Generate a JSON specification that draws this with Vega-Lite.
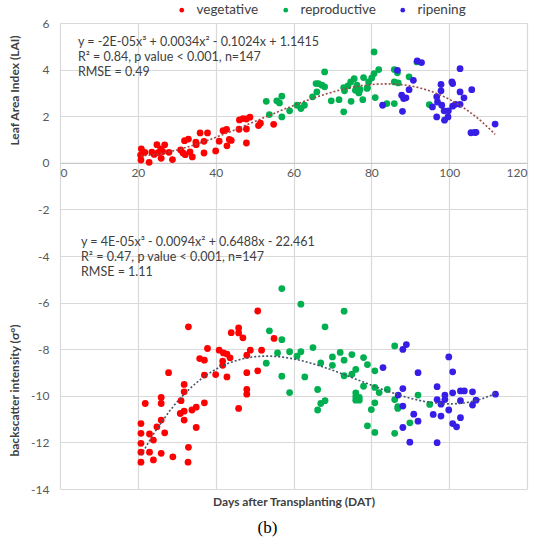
{
  "$schema": "https://vega.github.io/schema/vega-lite/v6.json",
  "width": 467,
  "height": 466,
  "autosize": {"type": "none"},
  "padding": {"left": 60, "top": 23, "right": 10, "bottom": 61},
  "title": {
    "text": "(b)",
    "orient": "bottom",
    "anchor": "middle",
    "frame": "bounds",
    "font": "Liberation Serif",
    "fontSize": 17,
    "fontWeight": "normal",
    "color": "#000000",
    "offset": 13
  },
  "config": {
    "view": {"stroke": null},
    "font": "Lato",
    "axis": {"labelFont": "Lato", "titleFont": "Lato"}
  },
  "datasets": {
    "lai": [
      {"dat": 20.9, "lai": 0.6, "stage": "vegetative"},
      {"dat": 20.7, "lai": 0.33, "stage": "vegetative"},
      {"dat": 20.8, "lai": 0.12, "stage": "vegetative"},
      {"dat": 21.8, "lai": 0.45, "stage": "vegetative"},
      {"dat": 22.9, "lai": 0.02, "stage": "vegetative"},
      {"dat": 23.6, "lai": 0.46, "stage": "vegetative"},
      {"dat": 24.2, "lai": 0.36, "stage": "vegetative"},
      {"dat": 24.9, "lai": 0.78, "stage": "vegetative"},
      {"dat": 25.2, "lai": 0.44, "stage": "vegetative"},
      {"dat": 25.9, "lai": 0.6, "stage": "vegetative"},
      {"dat": 26.0, "lai": 0.19, "stage": "vegetative"},
      {"dat": 26.4, "lai": 0.48, "stage": "vegetative"},
      {"dat": 26.9, "lai": 0.77, "stage": "vegetative"},
      {"dat": 28.0, "lai": 0.45, "stage": "vegetative"},
      {"dat": 28.9, "lai": 0.14, "stage": "vegetative"},
      {"dat": 31.0, "lai": 0.55, "stage": "vegetative"},
      {"dat": 31.6, "lai": 0.42, "stage": "vegetative"},
      {"dat": 32.0, "lai": 0.95, "stage": "vegetative"},
      {"dat": 32.2, "lai": 0.35, "stage": "vegetative"},
      {"dat": 33.0, "lai": 1.02, "stage": "vegetative"},
      {"dat": 33.4, "lai": 0.47, "stage": "vegetative"},
      {"dat": 34.0, "lai": 0.25, "stage": "vegetative"},
      {"dat": 34.9, "lai": 0.89, "stage": "vegetative"},
      {"dat": 35.0, "lai": 0.78, "stage": "vegetative"},
      {"dat": 36.0, "lai": 1.28, "stage": "vegetative"},
      {"dat": 37.0, "lai": 0.42, "stage": "vegetative"},
      {"dat": 37.0, "lai": 0.92, "stage": "vegetative"},
      {"dat": 37.9, "lai": 1.28, "stage": "vegetative"},
      {"dat": 40.0, "lai": 0.51, "stage": "vegetative"},
      {"dat": 40.9, "lai": 0.93, "stage": "vegetative"},
      {"dat": 41.9, "lai": 1.38, "stage": "vegetative"},
      {"dat": 42.8, "lai": 1.43, "stage": "vegetative"},
      {"dat": 42.9, "lai": 0.73, "stage": "vegetative"},
      {"dat": 43.5, "lai": 1.0, "stage": "vegetative"},
      {"dat": 44.0, "lai": 0.96, "stage": "vegetative"},
      {"dat": 46.0, "lai": 1.44, "stage": "vegetative"},
      {"dat": 46.1, "lai": 1.84, "stage": "vegetative"},
      {"dat": 47.0, "lai": 1.9, "stage": "vegetative"},
      {"dat": 47.9, "lai": 1.88, "stage": "vegetative"},
      {"dat": 47.9, "lai": 1.45, "stage": "vegetative"},
      {"dat": 47.9, "lai": 0.85, "stage": "vegetative"},
      {"dat": 48.8, "lai": 1.96, "stage": "vegetative"},
      {"dat": 51.0, "lai": 1.6, "stage": "vegetative"},
      {"dat": 51.5, "lai": 1.7, "stage": "vegetative"},
      {"dat": 54.9, "lai": 1.65, "stage": "vegetative"},
      {"dat": 53.0, "lai": 2.64, "stage": "reproductive"},
      {"dat": 53.8, "lai": 2.07, "stage": "reproductive"},
      {"dat": 55.7, "lai": 2.66, "stage": "reproductive"},
      {"dat": 56.4, "lai": 2.57, "stage": "reproductive"},
      {"dat": 57.0, "lai": 2.86, "stage": "reproductive"},
      {"dat": 57.0, "lai": 1.97, "stage": "reproductive"},
      {"dat": 59.0, "lai": 2.23, "stage": "reproductive"},
      {"dat": 60.9, "lai": 2.47, "stage": "reproductive"},
      {"dat": 61.9, "lai": 2.33, "stage": "reproductive"},
      {"dat": 62.8, "lai": 2.47, "stage": "reproductive"},
      {"dat": 64.9, "lai": 2.83, "stage": "reproductive"},
      {"dat": 66.0, "lai": 3.04, "stage": "reproductive"},
      {"dat": 65.8, "lai": 3.4, "stage": "reproductive"},
      {"dat": 66.4, "lai": 3.4, "stage": "reproductive"},
      {"dat": 67.3, "lai": 3.33, "stage": "reproductive"},
      {"dat": 68.0, "lai": 3.9, "stage": "reproductive"},
      {"dat": 68.0, "lai": 3.26, "stage": "reproductive"},
      {"dat": 69.7, "lai": 2.66, "stage": "reproductive"},
      {"dat": 71.7, "lai": 2.71, "stage": "reproductive"},
      {"dat": 72.9, "lai": 2.19, "stage": "reproductive"},
      {"dat": 72.9, "lai": 3.23, "stage": "reproductive"},
      {"dat": 73.1, "lai": 3.09, "stage": "reproductive"},
      {"dat": 74.0, "lai": 3.3, "stage": "reproductive"},
      {"dat": 74.8, "lai": 2.64, "stage": "reproductive"},
      {"dat": 74.7, "lai": 3.47, "stage": "reproductive"},
      {"dat": 75.6, "lai": 3.61, "stage": "reproductive"},
      {"dat": 75.9, "lai": 3.11, "stage": "reproductive"},
      {"dat": 76.3, "lai": 3.33, "stage": "reproductive"},
      {"dat": 76.8, "lai": 3.0, "stage": "reproductive"},
      {"dat": 77.1, "lai": 3.14, "stage": "reproductive"},
      {"dat": 77.8, "lai": 2.71, "stage": "reproductive"},
      {"dat": 78.0, "lai": 3.66, "stage": "reproductive"},
      {"dat": 78.9, "lai": 3.19, "stage": "reproductive"},
      {"dat": 79.0, "lai": 3.22, "stage": "reproductive"},
      {"dat": 79.3, "lai": 3.47, "stage": "reproductive"},
      {"dat": 80.1, "lai": 3.64, "stage": "reproductive"},
      {"dat": 80.7, "lai": 4.76, "stage": "reproductive"},
      {"dat": 80.7, "lai": 3.83, "stage": "reproductive"},
      {"dat": 81.0, "lai": 2.8, "stage": "reproductive"},
      {"dat": 81.9, "lai": 4.0, "stage": "reproductive"},
      {"dat": 84.0, "lai": 2.54, "stage": "reproductive"},
      {"dat": 85.9, "lai": 4.0, "stage": "reproductive"},
      {"dat": 85.9, "lai": 3.47, "stage": "reproductive"},
      {"dat": 86.7, "lai": 3.86, "stage": "reproductive"},
      {"dat": 85.9, "lai": 2.54, "stage": "reproductive"},
      {"dat": 86.9, "lai": 3.43, "stage": "reproductive"},
      {"dat": 89.7, "lai": 3.69, "stage": "reproductive"},
      {"dat": 91.7, "lai": 4.33, "stage": "reproductive"},
      {"dat": 94.9, "lai": 2.5, "stage": "reproductive"},
      {"dat": 82.9, "lai": 2.47, "stage": "ripening"},
      {"dat": 86.7, "lai": 3.97, "stage": "ripening"},
      {"dat": 88.0, "lai": 2.21, "stage": "ripening"},
      {"dat": 87.8, "lai": 2.9, "stage": "ripening"},
      {"dat": 88.3, "lai": 2.76, "stage": "ripening"},
      {"dat": 88.9, "lai": 2.79, "stage": "ripening"},
      {"dat": 89.7, "lai": 3.14, "stage": "ripening"},
      {"dat": 90.8, "lai": 3.54, "stage": "ripening"},
      {"dat": 91.8, "lai": 4.37, "stage": "ripening"},
      {"dat": 92.9, "lai": 4.3, "stage": "ripening"},
      {"dat": 95.7, "lai": 2.4, "stage": "ripening"},
      {"dat": 96.8, "lai": 1.97, "stage": "ripening"},
      {"dat": 96.8, "lai": 2.83, "stage": "ripening"},
      {"dat": 97.0, "lai": 2.61, "stage": "ripening"},
      {"dat": 97.9, "lai": 3.36, "stage": "ripening"},
      {"dat": 97.9, "lai": 3.09, "stage": "ripening"},
      {"dat": 98.1, "lai": 2.47, "stage": "ripening"},
      {"dat": 98.7, "lai": 2.23, "stage": "ripening"},
      {"dat": 98.8, "lai": 1.83, "stage": "ripening"},
      {"dat": 99.7, "lai": 1.97, "stage": "ripening"},
      {"dat": 99.8, "lai": 2.23, "stage": "ripening"},
      {"dat": 100.7, "lai": 3.47, "stage": "ripening"},
      {"dat": 100.9, "lai": 3.4, "stage": "ripening"},
      {"dat": 100.9, "lai": 2.43, "stage": "ripening"},
      {"dat": 101.6, "lai": 2.51, "stage": "ripening"},
      {"dat": 102.8, "lai": 4.04, "stage": "ripening"},
      {"dat": 102.8, "lai": 3.04, "stage": "ripening"},
      {"dat": 102.8, "lai": 2.51, "stage": "ripening"},
      {"dat": 103.8, "lai": 2.79, "stage": "ripening"},
      {"dat": 105.8, "lai": 3.14, "stage": "ripening"},
      {"dat": 105.6, "lai": 1.29, "stage": "ripening"},
      {"dat": 106.6, "lai": 1.3, "stage": "ripening"},
      {"dat": 106.9, "lai": 1.31, "stage": "ripening"},
      {"dat": 111.8, "lai": 1.66, "stage": "ripening"}
    ],
    "sigma": [
      {"dat": 33.0, "sigma": -7.04, "stage": "vegetative"},
      {"dat": 50.8, "sigma": -6.36, "stage": "vegetative"},
      {"dat": 27.9, "sigma": -9.01, "stage": "vegetative"},
      {"dat": 21.9, "sigma": -10.33, "stage": "vegetative"},
      {"dat": 20.8, "sigma": -11.19, "stage": "vegetative"},
      {"dat": 20.8, "sigma": -11.61, "stage": "vegetative"},
      {"dat": 20.8, "sigma": -12.04, "stage": "vegetative"},
      {"dat": 20.8, "sigma": -12.42, "stage": "vegetative"},
      {"dat": 20.8, "sigma": -12.85, "stage": "vegetative"},
      {"dat": 23.0, "sigma": -11.64, "stage": "vegetative"},
      {"dat": 24.0, "sigma": -11.9, "stage": "vegetative"},
      {"dat": 24.9, "sigma": -11.33, "stage": "vegetative"},
      {"dat": 26.0, "sigma": -10.07, "stage": "vegetative"},
      {"dat": 26.0, "sigma": -10.33, "stage": "vegetative"},
      {"dat": 26.0, "sigma": -11.04, "stage": "vegetative"},
      {"dat": 26.9, "sigma": -11.59, "stage": "vegetative"},
      {"dat": 26.0, "sigma": -12.47, "stage": "vegetative"},
      {"dat": 23.0, "sigma": -12.42, "stage": "vegetative"},
      {"dat": 24.0, "sigma": -12.75, "stage": "vegetative"},
      {"dat": 29.0, "sigma": -12.62, "stage": "vegetative"},
      {"dat": 31.1, "sigma": -10.21, "stage": "vegetative"},
      {"dat": 31.9, "sigma": -9.83, "stage": "vegetative"},
      {"dat": 31.9, "sigma": -9.51, "stage": "vegetative"},
      {"dat": 30.9, "sigma": -10.76, "stage": "vegetative"},
      {"dat": 31.9, "sigma": -10.66, "stage": "vegetative"},
      {"dat": 31.9, "sigma": -11.04, "stage": "vegetative"},
      {"dat": 33.0, "sigma": -12.21, "stage": "vegetative"},
      {"dat": 32.9, "sigma": -12.85, "stage": "vegetative"},
      {"dat": 33.9, "sigma": -10.61, "stage": "vegetative"},
      {"dat": 35.0, "sigma": -10.49, "stage": "vegetative"},
      {"dat": 35.0, "sigma": -11.36, "stage": "vegetative"},
      {"dat": 37.1, "sigma": -10.3, "stage": "vegetative"},
      {"dat": 35.9, "sigma": -8.4, "stage": "vegetative"},
      {"dat": 37.1, "sigma": -8.47, "stage": "vegetative"},
      {"dat": 37.1, "sigma": -9.11, "stage": "vegetative"},
      {"dat": 37.9, "sigma": -7.97, "stage": "vegetative"},
      {"dat": 40.0, "sigma": -9.09, "stage": "vegetative"},
      {"dat": 40.9, "sigma": -8.04, "stage": "vegetative"},
      {"dat": 42.0, "sigma": -8.16, "stage": "vegetative"},
      {"dat": 41.8, "sigma": -8.51, "stage": "vegetative"},
      {"dat": 41.8, "sigma": -8.69, "stage": "vegetative"},
      {"dat": 42.9, "sigma": -8.21, "stage": "vegetative"},
      {"dat": 42.9, "sigma": -9.19, "stage": "vegetative"},
      {"dat": 43.7, "sigma": -8.37, "stage": "vegetative"},
      {"dat": 44.0, "sigma": -7.29, "stage": "vegetative"},
      {"dat": 45.9, "sigma": -7.09, "stage": "vegetative"},
      {"dat": 45.9, "sigma": -7.3, "stage": "vegetative"},
      {"dat": 47.0, "sigma": -7.51, "stage": "vegetative"},
      {"dat": 45.9, "sigma": -10.54, "stage": "vegetative"},
      {"dat": 48.0, "sigma": -9.01, "stage": "vegetative"},
      {"dat": 48.0, "sigma": -9.73, "stage": "vegetative"},
      {"dat": 48.0, "sigma": -9.93, "stage": "vegetative"},
      {"dat": 48.0, "sigma": -8.26, "stage": "vegetative"},
      {"dat": 48.9, "sigma": -8.04, "stage": "vegetative"},
      {"dat": 50.8, "sigma": -8.93, "stage": "vegetative"},
      {"dat": 51.8, "sigma": -8.04, "stage": "vegetative"},
      {"dat": 55.0, "sigma": -7.54, "stage": "vegetative"},
      {"dat": 57.0, "sigma": -5.4, "stage": "reproductive"},
      {"dat": 61.9, "sigma": -6.07, "stage": "reproductive"},
      {"dat": 53.8, "sigma": -7.21, "stage": "reproductive"},
      {"dat": 57.0, "sigma": -7.59, "stage": "reproductive"},
      {"dat": 55.9, "sigma": -8.16, "stage": "reproductive"},
      {"dat": 59.0, "sigma": -8.11, "stage": "reproductive"},
      {"dat": 60.9, "sigma": -8.3, "stage": "reproductive"},
      {"dat": 61.9, "sigma": -8.11, "stage": "reproductive"},
      {"dat": 53.0, "sigma": -8.6, "stage": "reproductive"},
      {"dat": 57.0, "sigma": -9.16, "stage": "reproductive"},
      {"dat": 59.0, "sigma": -9.86, "stage": "reproductive"},
      {"dat": 62.9, "sigma": -9.19, "stage": "reproductive"},
      {"dat": 73.0, "sigma": -6.37, "stage": "reproductive"},
      {"dat": 68.1, "sigma": -7.04, "stage": "reproductive"},
      {"dat": 65.0, "sigma": -7.93, "stage": "reproductive"},
      {"dat": 67.0, "sigma": -8.59, "stage": "reproductive"},
      {"dat": 66.2, "sigma": -9.73, "stage": "reproductive"},
      {"dat": 67.0, "sigma": -10.33, "stage": "reproductive"},
      {"dat": 68.1, "sigma": -10.21, "stage": "reproductive"},
      {"dat": 66.2, "sigma": -10.61, "stage": "reproductive"},
      {"dat": 70.0, "sigma": -8.33, "stage": "reproductive"},
      {"dat": 70.0, "sigma": -8.69, "stage": "reproductive"},
      {"dat": 72.0, "sigma": -8.14, "stage": "reproductive"},
      {"dat": 73.0, "sigma": -8.47, "stage": "reproductive"},
      {"dat": 73.0, "sigma": -9.14, "stage": "reproductive"},
      {"dat": 75.0, "sigma": -8.23, "stage": "reproductive"},
      {"dat": 75.0, "sigma": -9.07, "stage": "reproductive"},
      {"dat": 76.0, "sigma": -8.87, "stage": "reproductive"},
      {"dat": 78.0, "sigma": -8.36, "stage": "reproductive"},
      {"dat": 79.0, "sigma": -8.66, "stage": "reproductive"},
      {"dat": 78.0, "sigma": -9.59, "stage": "reproductive"},
      {"dat": 76.0, "sigma": -9.87, "stage": "reproductive"},
      {"dat": 76.0, "sigma": -10.19, "stage": "reproductive"},
      {"dat": 76.9, "sigma": -10.07, "stage": "reproductive"},
      {"dat": 76.9, "sigma": -10.19, "stage": "reproductive"},
      {"dat": 76.0, "sigma": -10.04, "stage": "reproductive"},
      {"dat": 80.9, "sigma": -8.93, "stage": "reproductive"},
      {"dat": 80.0, "sigma": -10.59, "stage": "reproductive"},
      {"dat": 80.9, "sigma": -10.3, "stage": "reproductive"},
      {"dat": 79.0, "sigma": -11.29, "stage": "reproductive"},
      {"dat": 80.9, "sigma": -11.57, "stage": "reproductive"},
      {"dat": 82.0, "sigma": -9.86, "stage": "reproductive"},
      {"dat": 80.9, "sigma": -9.64, "stage": "reproductive"},
      {"dat": 84.1, "sigma": -9.73, "stage": "reproductive"},
      {"dat": 86.0, "sigma": -7.86, "stage": "reproductive"},
      {"dat": 86.0, "sigma": -10.16, "stage": "reproductive"},
      {"dat": 86.8, "sigma": -10.47, "stage": "reproductive"},
      {"dat": 86.8, "sigma": -10.54, "stage": "reproductive"},
      {"dat": 86.0, "sigma": -11.61, "stage": "reproductive"},
      {"dat": 89.9, "sigma": -11.16, "stage": "reproductive"},
      {"dat": 92.0, "sigma": -9.97, "stage": "reproductive"},
      {"dat": 95.0, "sigma": -10.37, "stage": "reproductive"},
      {"dat": 89.0, "sigma": -7.8, "stage": "ripening"},
      {"dat": 88.1, "sigma": -8.01, "stage": "ripening"},
      {"dat": 83.0, "sigma": -8.79, "stage": "ripening"},
      {"dat": 92.0, "sigma": -9.01, "stage": "ripening"},
      {"dat": 88.1, "sigma": -9.69, "stage": "ripening"},
      {"dat": 86.9, "sigma": -9.97, "stage": "ripening"},
      {"dat": 88.1, "sigma": -10.44, "stage": "ripening"},
      {"dat": 88.1, "sigma": -11.36, "stage": "ripening"},
      {"dat": 89.9, "sigma": -11.99, "stage": "ripening"},
      {"dat": 90.9, "sigma": -10.79, "stage": "ripening"},
      {"dat": 92.0, "sigma": -11.09, "stage": "ripening"},
      {"dat": 95.9, "sigma": -10.8, "stage": "ripening"},
      {"dat": 96.9, "sigma": -9.61, "stage": "ripening"},
      {"dat": 96.9, "sigma": -10.16, "stage": "ripening"},
      {"dat": 96.9, "sigma": -12.01, "stage": "ripening"},
      {"dat": 97.9, "sigma": -10.87, "stage": "ripening"},
      {"dat": 97.9, "sigma": -10.36, "stage": "ripening"},
      {"dat": 98.9, "sigma": -9.97, "stage": "ripening"},
      {"dat": 98.9, "sigma": -10.16, "stage": "ripening"},
      {"dat": 99.9, "sigma": -8.33, "stage": "ripening"},
      {"dat": 99.9, "sigma": -10.61, "stage": "ripening"},
      {"dat": 100.9, "sigma": -8.97, "stage": "ripening"},
      {"dat": 100.9, "sigma": -9.87, "stage": "ripening"},
      {"dat": 100.9, "sigma": -11.19, "stage": "ripening"},
      {"dat": 101.9, "sigma": -11.33, "stage": "ripening"},
      {"dat": 102.9, "sigma": -9.79, "stage": "ripening"},
      {"dat": 103.9, "sigma": -9.79, "stage": "ripening"},
      {"dat": 102.9, "sigma": -10.21, "stage": "ripening"},
      {"dat": 102.9, "sigma": -10.94, "stage": "ripening"},
      {"dat": 106.0, "sigma": -9.83, "stage": "ripening"},
      {"dat": 106.0, "sigma": -10.4, "stage": "ripening"},
      {"dat": 106.9, "sigma": -10.19, "stage": "ripening"},
      {"dat": 111.9, "sigma": -9.93, "stage": "ripening"}
    ],
    "notes": [
      {"x": 4.6, "y": 5.18, "t": "y = -2E-05x³ + 0.0034x² - 0.1024x + 1.1415"},
      {"x": 4.6, "y": 4.55, "t": "R² = 0.84, p value < 0.001, n=147"},
      {"x": 4.6, "y": 3.9, "t": "RMSE = 0.49"},
      {"x": 5.4, "y": -3.42, "t": "y = 4E-05x³ - 0.0094x² + 0.6488x - 22.461"},
      {"x": 5.4, "y": -4.05, "t": "R² = 0.47, p value < 0.001, n=147"},
      {"x": 5.4, "y": -4.68, "t": "RMSE = 1.11"}
    ]
  },
  "resolve": {"axis": {"x": "independent", "y": "independent"}},
  "layer": [
    {
      "data": {"name": "lai"},
      "mark": {"type": "circle", "size": 46, "opacity": 1},
      "encoding": {
        "x": {
          "field": "dat",
          "type": "quantitative",
          "scale": {"domain": [0, 120], "nice": false},
          "axis": {
            "orient": "bottom",
            "offset": -326.2,
            "values": [0, 20, 40, 60, 80, 100, 120],
            "grid": false,
            "ticks": false,
            "domain": true,
            "domainColor": "#c8c8c8",
            "domainWidth": 1.2,
            "labelPadding": 5,
            "labelFontSize": 12,
            "labelColor": "#595959",
            "title": null
          }
        },
        "y": {
          "field": "lai",
          "type": "quantitative",
          "scale": {"domain": [-14, 6], "nice": false},
          "axis": {
            "orient": "left",
            "values": [-14, -12, -10, -8, -6, -4, -2, 0, 2, 4, 6],
            "labelExpr": "datum.value + ''",
            "grid": true,
            "gridColor": "#d9d9d9",
            "gridWidth": 1.2,
            "ticks": false,
            "domain": false,
            "labelPadding": 11,
            "labelFontSize": 12,
            "labelColor": "#595959",
            "title": "Leaf Area Index (LAI)",
            "titleX": -46,
            "titleY": 67,
            "titleAngle": -90,
            "titleBaseline": "middle",
            "titleAlign": "center",
            "titleFontSize": 12,
            "titleFontWeight": "bold",
            "titleColor": "#404040"
          }
        },
        "color": {
          "field": "stage",
          "type": "nominal",
          "scale": {
            "domain": ["vegetative", "reproductive", "ripening"],
            "range": ["#ff0000", "#00b050", "#371ee6"]
          },
          "legend": {
            "orient": "none",
            "direction": "horizontal",
            "legendX": 115,
            "legendY": -20,
            "title": null,
            "padding": 0,
            "symbolType": "circle",
            "symbolSize": 22,
            "symbolStrokeWidth": 0,
            "labelFontSize": 13.5,
            "labelColor": "#404040",
            "labelOffset": 8,
            "columnPadding": 20
          }
        }
      }
    },
    {
      "data": {"name": "sigma"},
      "mark": {"type": "circle", "size": 46, "opacity": 1},
      "encoding": {
        "x": {
          "field": "dat",
          "type": "quantitative",
          "scale": {"domain": [0, 120], "nice": false},
          "axis": {
            "orient": "bottom",
            "values": [0, 20, 40, 60, 80, 100, 120],
            "grid": true,
            "gridColor": "#d9d9d9",
            "gridWidth": 1.2,
            "labels": false,
            "ticks": false,
            "domain": false,
            "title": "Days after Transplanting (DAT)",
            "titlePadding": 7,
            "titleFontSize": 12,
            "titleFontWeight": "bold",
            "titleColor": "#404040"
          }
        },
        "y": {
          "field": "sigma",
          "type": "quantitative",
          "scale": {"domain": [-14, 6], "nice": false},
          "axis": {
            "orient": "left",
            "grid": false,
            "labels": false,
            "ticks": false,
            "domain": false,
            "title": "backscatter intensity (σ°)",
            "titleX": -46,
            "titleY": 367,
            "titleAngle": -90,
            "titleBaseline": "middle",
            "titleAlign": "center",
            "titleFontSize": 12,
            "titleFontWeight": "bold",
            "titleColor": "#404040"
          }
        },
        "color": {
          "field": "stage",
          "type": "nominal",
          "scale": {
            "domain": ["vegetative", "reproductive", "ripening"],
            "range": ["#ff0000", "#00b050", "#371ee6"]
          },
          "legend": null
        }
      }
    },
    {
      "data": {"name": "lai"},
      "transform": [
        {"regression": "lai", "on": "dat", "method": "poly", "order": 3}
      ],
      "mark": {"type": "line", "color": "#9c4a46", "strokeWidth": 1.6, "strokeDash": [2, 2]},
      "encoding": {
        "x": {"field": "dat", "type": "quantitative", "scale": {"domain": [0, 120], "nice": false}, "axis": null},
        "y": {"field": "lai", "type": "quantitative", "scale": {"domain": [-14, 6], "nice": false}, "axis": null}
      }
    },
    {
      "data": {"name": "sigma"},
      "transform": [
        {"regression": "sigma", "on": "dat", "method": "poly", "order": 3}
      ],
      "mark": {"type": "line", "color": "#44546a", "strokeWidth": 1.6, "strokeDash": [2, 2]},
      "encoding": {
        "x": {"field": "dat", "type": "quantitative", "scale": {"domain": [0, 120], "nice": false}, "axis": null},
        "y": {"field": "sigma", "type": "quantitative", "scale": {"domain": [-14, 6], "nice": false}, "axis": null}
      }
    },
    {
      "data": {"name": "notes"},
      "mark": {"type": "text", "align": "left", "baseline": "middle", "fontSize": 12.5, "color": "#404040"},
      "encoding": {
        "x": {"field": "x", "type": "quantitative", "scale": {"domain": [0, 120], "nice": false}, "axis": null},
        "y": {"field": "y", "type": "quantitative", "scale": {"domain": [-14, 6], "nice": false}, "axis": null},
        "text": {"field": "t"}
      }
    }
  ]
}
